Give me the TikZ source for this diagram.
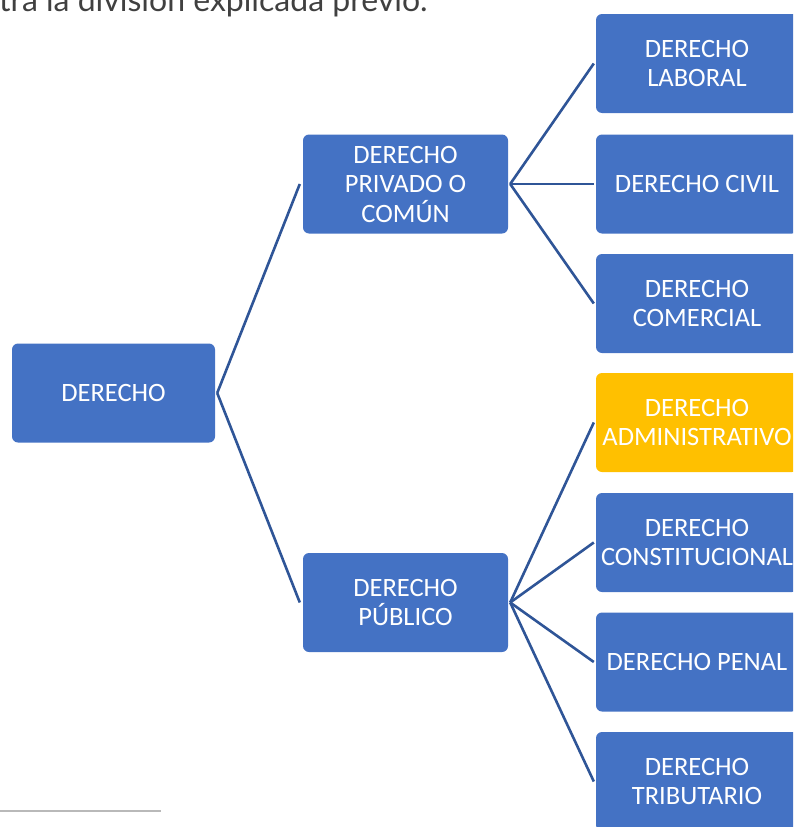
\documentclass[tikz,border=0pt]{standalone}
\usepackage{fontspec}
\setmainfont{Carlito}
\newfontfamily\topfont{Lato}
\definecolor{boxblue}{HTML}{4472C4}
\definecolor{boxyellow}{HTML}{FFC000}
\definecolor{linkblue}{HTML}{2F5597}
\definecolor{toptext}{HTML}{404040}
\begin{document}
\begin{tikzpicture}[x=1pt,y=-1pt,
  box/.style={rectangle, rounded corners=6pt, fill=boxblue, text=white,
    font=\fontsize{26.5}{29.5}\selectfont, align=center, inner sep=0pt,
    minimum height=99pt},
  leftbox/.style={box, minimum width=203pt},
  rightbox/.style={box, minimum width=202pt},
  hibox/.style={rightbox, fill=boxyellow},
  link/.style={draw=linkblue, line width=2.6pt}
]
\useasboundingbox (0,0) rectangle (793,827);
\clip (0,0) rectangle (793,827);

\node[anchor=base west, text=toptext, font=\topfont\fontsize{32}{36}\selectfont, inner sep=0pt]
  (top) at (-1,12) {tra la división explicada previo.};

\node[leftbox, minimum width=203pt] (der) at (113.5,393) {DERECHO};
\node[leftbox, minimum width=205pt] (priv) at (405.5,184) {DERECHO\\PRIVADO O\\COMÚN};
\node[leftbox, minimum width=205pt] (pub) at (405.5,602.5) {DERECHO\\PÚBLICO};

\node[rightbox] (lab) at (697,63.5) {DERECHO\\LABORAL};
\node[rightbox] (civ) at (697,184) {DERECHO CIVIL};
\node[rightbox] (com) at (697,303.5) {DERECHO\\COMERCIAL};
\node[hibox] (adm) at (697,422.5) {DERECHO\\ADMINISTRATIVO};
\node[rightbox] (con) at (697,542.5) {DERECHO\\CONSTITUCIONAL};
\node[rightbox] (pen) at (697,662) {DERECHO PENAL};
\node[rightbox] (tri) at (697,781.5) {DERECHO\\TRIBUTARIO};

\draw[link] ([xshift=2pt]der.east) -- ([xshift=-3pt]priv.west);
\draw[link] ([xshift=2pt]der.east) -- ([xshift=-3pt]pub.west);

\foreach \c in {lab,civ,com}
  \draw[link] ([xshift=2pt]priv.east) -- ([xshift=-2pt]\c.west);
\foreach \c in {adm,con,pen,tri}
  \draw[link] ([xshift=2pt]pub.east) -- ([xshift=-2pt]\c.west);

\coordinate (fnA) at (0,811);
\coordinate (fnB) at (161,811);
\draw[gray!55, line width=1.2pt] (fnA) -- (fnB);
\end{tikzpicture}
\end{document}
